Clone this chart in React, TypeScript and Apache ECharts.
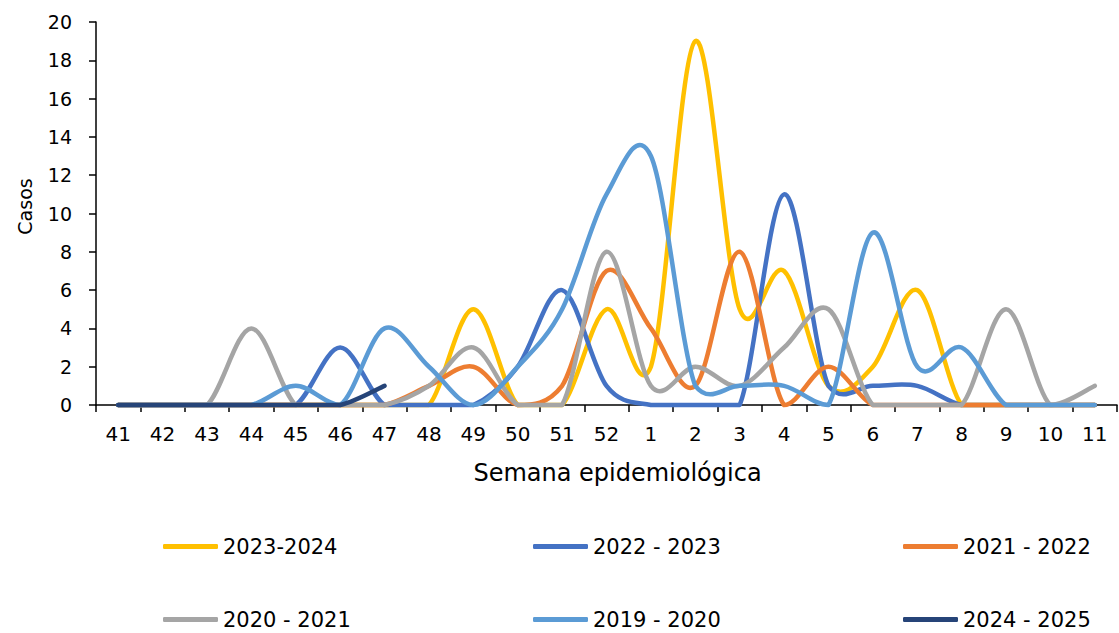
import React, { useEffect, useRef } from "react";
import * as echarts from "echarts";

const weeks = ["41","42","43","44","45","46","47","48","49","50","51","52","1","2","3","4","5","6","7","8","9","10","11"];

const s2023_2024 = [0,0,0,0,0,0,0,0,5,0,0,5,2,19,5,7,1,2,6,0,0,0,0];
const s2022_2023 = [0,0,0,0,0,3,0,0,0,2,6,1,0,0,0,11,1,1,1,0,0,0,0];
const s2021_2022 = [0,0,0,0,0,0,0,1,2,0,1,7,4,1,8,0,2,0,0,0,0,0,0];
const s2020_2021 = [0,0,0,4,0,0,0,1,3,0,0,8,1,2,1,3,5,0,0,0,5,0,1];
const s2019_2020 = [0,0,0,0,1,0,4,2,0,2,5,11,13,1,1,1,0,9,2,3,0,0,0];
const s2024_2025 = [0,0,0,0,0,0,1];

const yTicks = { min: 0, max: 20, interval: 2 };

const seriesDefs = [
  { name: "2023-2024", data: s2023_2024, color: "#FFC000" },
  { name: "2022 - 2023", data: s2022_2023, color: "#4472C4" },
  { name: "2021 - 2022", data: s2021_2022, color: "#ED7D31" },
  { name: "2020 - 2021", data: s2020_2021, color: "#A5A5A5" },
  { name: "2019 - 2020", data: s2019_2020, color: "#5B9BD5" },
  { name: "2024 - 2025", data: s2024_2025, color: "#264478" },
];

const legendPos = [
  { left: 163, top: 536 },
  { left: 533, top: 536 },
  { left: 903, top: 536 },
  { left: 163, top: 609 },
  { left: 533, top: 609 },
  { left: 903, top: 609 },
];

const FONT = "DejaVu Sans";

function makeRender(values: number[], color: string) {
  return (params: any, api: any) => {
    if (params.dataIndex !== 0) return null;
    const pts = values.map((v, i) => api.coord([i, v]));
    const y0 = api.coord([0, 0])[1];
    let d = `M${pts[0][0]},${pts[0][1]}`;
    for (let i = 0; i < pts.length - 1; i++) {
      const p0 = pts[i - 1] || pts[i];
      const p1 = pts[i];
      const p2 = pts[i + 1];
      const p3 = pts[i + 2] || pts[i + 1];
      const c1x = p1[0] + (p2[0] - p0[0]) / 6;
      let c1y = p1[1] + (p2[1] - p0[1]) / 6;
      const c2x = p2[0] - (p3[0] - p1[0]) / 6;
      let c2y = p2[1] - (p3[1] - p1[1]) / 6;
      c1y = Math.min(c1y, y0);
      c2y = Math.min(c2y, y0);
      d += ` C${c1x},${c1y} ${c2x},${c2y} ${p2[0]},${p2[1]}`;
    }
    return {
      type: "path",
      shape: { pathData: d },
      style: { stroke: color, lineWidth: 4.5, fill: "none", lineCap: "round", lineJoin: "round" },
    };
  };
}

export default function App() {
  const ref = useRef<HTMLDivElement>(null);
  useEffect(() => {
    if (!ref.current) return;
    const chart = echarts.init(ref.current, null, { renderer: "svg" });
    chart.setOption({
      animation: false,
      backgroundColor: "#ffffff",
      grid: { left: 96, top: 22, width: 1021, height: 383, containLabel: false },
      legend: seriesDefs.map((s, i) => ({
        data: [s.name],
        left: legendPos[i].left,
        top: legendPos[i].top,
        padding: 0,
        icon: "roundRect",
        itemWidth: 55,
        itemHeight: 5,
        textStyle: { fontFamily: FONT, fontSize: 21, color: "#000" },
      })),
      xAxis: {
        type: "category",
        data: weeks,
        boundaryGap: true,
        name: "Semana epidemiológica",
        nameLocation: "middle",
        nameGap: 56,
        nameTextStyle: { fontFamily: FONT, fontSize: 24, color: "#000", padding: [0, 0, 0, 22] },
        axisLine: { show: true, lineStyle: { color: "#000", width: 1.5 } },
        axisTick: { show: true, alignWithLabel: false, length: 7, lineStyle: { color: "#000", width: 1.5 } },
        axisLabel: { fontFamily: FONT, fontSize: 20, color: "#000", margin: 19, interval: 0 },
        splitLine: { show: false },
      },
      yAxis: {
        type: "value",
        min: yTicks.min,
        max: yTicks.max,
        interval: yTicks.interval,
        name: "Casos",
        nameLocation: "middle",
        nameGap: 62,
        nameTextStyle: { fontFamily: FONT, fontSize: 19, color: "#000", padding: [0, 0, 0, 14] },
        axisLine: { show: true, lineStyle: { color: "#000", width: 1.5 } },
        axisTick: { show: true, length: 7, lineStyle: { color: "#000", width: 1.5 } },
        axisLabel: { fontFamily: FONT, fontSize: 19, color: "#000", margin: 24 },
        splitLine: { show: false },
      },
      series: seriesDefs.map((s) => ({
        name: s.name,
        type: "custom",
        coordinateSystem: "cartesian2d",
        data: s.data.map((v, i) => [i, v]),
        encode: { x: 0, y: 1 },
        clip: false,
        color: s.color,
        itemStyle: { color: s.color },
        renderItem: makeRender(s.data, s.color),
      })),
    });
    return () => chart.dispose();
  }, []);
  return <div ref={ref} style={{ width: 1119, height: 633, position: "absolute", left: 0, top: 0 }} />;
}
